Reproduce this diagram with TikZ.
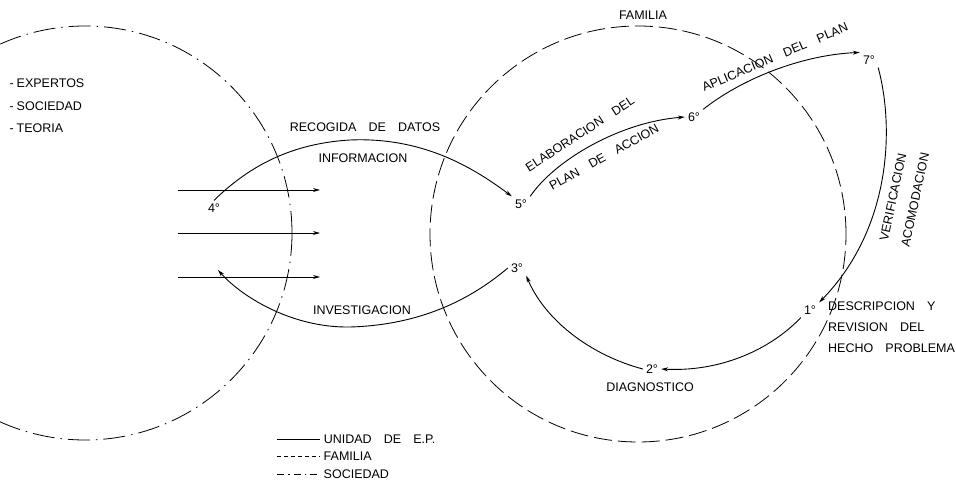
\documentclass[tikz,border=0pt]{standalone}
\usepackage{fontspec}
\setmainfont{Liberation Sans}[WordSpace=3.5]
\usetikzlibrary{arrows.meta}
\begin{document}
\begin{tikzpicture}[x=1pt,y=-1pt,
    every node/.style={font=\fontsize{12.5}{14}\selectfont},
    unidad/.style={line width=0.9pt},
    flecha/.style={unidad,-{Stealth[length=7pt,width=4pt]}},
    familia/.style={line width=0.8pt,dash pattern=on 18pt off 6pt},
    sociedad/.style={line width=0.8pt,dash pattern=on 22pt off 6pt on 1.5pt off 6pt},
    paso/.style={inner sep=3pt}]
    \useasboundingbox (0,0) rectangle (956,494);
    \clip (0,0) rectangle (956,494);
    % circulos
    \draw[sociedad] (85,233) circle[radius=207pt];
    \draw[familia] (638,234) circle[radius=208pt];
    \node (familia) at (643,15) {FAMILIA};
    \node[anchor=west] (expertos) at (6,83) {-\hspace{3pt}EXPERTOS};
    \node[anchor=west] (sociedad) at (6,106) {-\hspace{3pt}SOCIEDAD};
    \node[anchor=west] (teoria) at (6,128) {-\hspace{3pt}TEORIA};
    % flechas de entrada
    \foreach \y/\n in {190/a,233/b,277/c} {
        \coordinate (s\n) at (178,\y);
        \coordinate (e\n) at (320,\y);
        \draw[flecha] (s\n) -- (e\n);
    }
    % pasos
    \node[paso] (n1) at (810,310) {1°};
    \node[paso] (n2) at (652,369) {2°};
    \node[paso] (n3) at (517,268) {3°};
    \node[paso] (n4) at (214,208) {4°};
    \node[paso] (n5) at (521,204) {5°};
    \node[paso] (n6) at (694,117) {6°};
    \node[paso] (n7) at (869,60) {7°};
    \coordinate (fin4) at (218,270);
    % ciclo
    \draw[flecha] (n4.north) .. controls (255,160) and (300,143) .. (350,140)
        .. controls (420,137) and (470,165) .. (n5.north west);
    \draw[flecha] (n3.west) .. controls (470,300) and (420,325) .. (350,327)
        .. controls (290,328) and (240,295) .. (fin4);
    \draw[flecha] (n5.north east) .. controls (555,160) and (620,122) .. (n6.west);
    \draw[flecha] (n6.north east) .. controls (740,80) and (800,55) .. (n7.north west);
    \draw[flecha] (n7.south east) .. controls (895,130) and (890,230) .. (n1.north east);
    \draw[flecha] (n1.south west) .. controls (770,350) and (720,372) .. (n2.east);
    \draw[flecha] (n2.west) .. controls (590,355) and (545,320) .. (n3.south east);
    % textos
    \node (recogida) at (365,127) {RECOGIDA DE DATOS};
    \node (informacion) at (363,158) {INFORMACION};
    \node (investigacion) at (362,310) {INVESTIGACION};
    \node[rotate=33] (elaboracion) at (580,134) {ELABORACION DEL};
    \node[rotate=29] (plan) at (604,157) {PLAN DE ACCION};
    \node[rotate=23] (aplicacion) at (775,57) {APLICACION DEL PLAN};
    \node[rotate=78,inner sep=1pt] (verificacion) at (893,197) {VERIFICACION};
    \node[rotate=78,inner sep=1pt] (acomodacion) at (915,200) {ACOMODACION};
    \node[anchor=north west,align=left,font=\fontsize{12.5}{21}\selectfont,inner sep=0pt]
        (descripcion) at (828,302) {DESCRIPCION Y\\REVISION DEL\\HECHO PROBLEMA};
    \node (diagnostico) at (650,387) {DIAGNOSTICO};
    % leyenda
    \coordinate (la) at (277,439); \coordinate (lb) at (320,439);
    \coordinate (lc) at (277,456); \coordinate (ld) at (320,456);
    \coordinate (le) at (277,474); \coordinate (lf) at (320,474);
    \draw[unidad] (la) -- (lb) node[right] (unidad) {UNIDAD DE E.P.};
    \draw[line width=0.8pt,dash pattern=on 4pt off 3pt] (lc) -- (ld) node[right] (famleyenda) {FAMILIA};
    \draw[line width=0.8pt,dash pattern=on 7pt off 4pt on 1.5pt off 4pt] (le) -- (lf) node[right] (socleyenda) {SOCIEDAD};
\end{tikzpicture}
\end{document}
